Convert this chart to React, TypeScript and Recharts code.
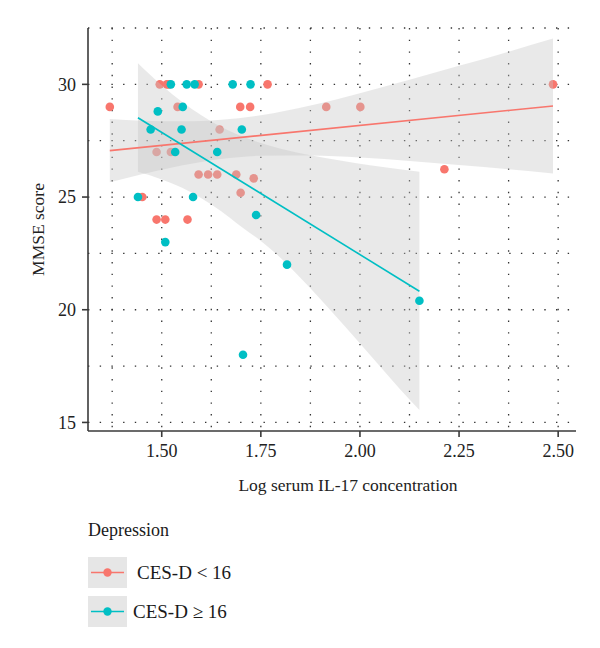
import React from 'react';
import { ComposedChart, Scatter, Area, Line, XAxis, YAxis, CartesianGrid, Legend } from 'recharts';

// CES-D < 16 (salmon) observations
const lowX = [1.369, 1.495, 1.513, 1.518, 1.593, 1.767, 2.487, 1.540, 1.698, 1.723, 1.915, 2.001, 2.213, 1.646, 1.487, 1.523, 1.593, 1.617, 1.640, 1.688, 1.732, 1.699, 1.451, 1.487, 1.509, 1.565];
const lowY = [29, 30, 30, 30, 30, 30, 30, 29, 29, 29, 29, 29, 26.23, 28, 27, 27, 26, 26, 26, 26, 25.83, 25.19, 25, 24, 24, 24];

// CES-D >= 16 (teal) observations
const highX = [1.523, 1.563, 1.583, 1.679, 1.724, 1.553, 1.490, 1.472, 1.550, 1.702, 1.534, 1.640, 1.440, 1.579, 1.509, 1.738, 1.816, 1.705, 2.150];
const highY = [30, 30, 30, 30, 30, 29, 28.8, 28, 28, 28, 27, 27, 25, 25, 23, 24.2, 22, 18, 20.4];

// Fitted lines
const lowFitX = [1.369, 2.487];
const lowFitY = [27.06, 29.04];
const highFitX = [1.44, 2.15];
const highFitY = [28.52, 20.82];

// Confidence bands
const lowBandX = [1.369, 1.45, 1.55, 1.65, 1.75, 1.875, 2.0, 2.125, 2.25, 2.375, 2.487];
const lowBandLo = [25.66, 26.01, 26.40, 26.69, 26.83, 26.84, 26.75, 26.60, 26.42, 26.23, 26.05];
const lowBandHi = [28.46, 28.39, 28.36, 28.43, 28.63, 29.06, 29.61, 30.20, 30.82, 31.45, 32.03];

const highBandX = [1.44, 1.50, 1.55, 1.60, 1.65, 1.70, 1.75, 1.80, 1.875, 1.95, 2.025, 2.10, 2.15];
const highBandLo = [26.12, 25.78, 25.42, 24.95, 24.37, 23.69, 23.05, 22.3, 20.95, 19.5, 18.0, 16.5, 15.55];
const highBandHi = [30.94, 29.96, 29.24, 28.63, 28.11, 27.71, 27.40, 27.14, 26.85, 26.62, 26.41, 26.23, 26.12];

const xTicks = [1.5, 1.75, 2.0, 2.25, 2.5];
const yTicks = [15, 20, 25, 30];
const xGrid = [1.375, 1.5, 1.625, 1.75, 1.875, 2.0, 2.125, 2.25, 2.375, 2.5];
const yGrid = [15, 17.5, 20, 22.5, 25, 27.5, 30, 32.5];

const SALMON = '#F8766D';
const TEAL = '#00BFC4';
const FONT = '"Liberation Serif", "Times New Roman", serif';

const legendLabels = ['CES-D < 16', 'CES-D \u2265 16'];
const legendColors = [SALMON, TEAL];

const lowPts = lowX.map((x, i) => ({ x, y: lowY[i] }));
const highPts = highX.map((x, i) => ({ x, y: highY[i] }));
const lowFit = lowFitX.map((x, i) => ({ x, y: lowFitY[i] }));
const highFit = highFitX.map((x, i) => ({ x, y: highFitY[i] }));
const lowBand = lowBandX.map((x, i) => ({ x, range: [lowBandLo[i], lowBandHi[i]] }));
const highBand = highBandX.map((x, i) => ({ x, range: [highBandLo[i], highBandHi[i]] }));

const dot = (color: string) => (props: any) => (
  <circle cx={props.cx} cy={props.cy} r={4.3} fill={color} />
);

const LegendContent = () => (
  <div style={{ position: 'relative', width: 300, height: 150, fontFamily: FONT, color: '#1a1a1a' }}>
    <div style={{ position: 'absolute', left: 0, top: 4, fontSize: 18, lineHeight: '22px' }}>Depression</div>
    {legendLabels.map((lab, i) => (
      <div key={lab} style={{ position: 'absolute', left: 0, top: 42 + i * 39, height: 31, display: 'flex', alignItems: 'center' }}>
        <svg width={39} height={31} style={{ display: 'block' }}>
          <rect x={0} y={0} width={39} height={31} fill="#E6E6E6" />
          <line x1={3} x2={36} y1={15.5} y2={15.5} stroke={legendColors[i]} strokeWidth={1.6} />
          <circle cx={19.5} cy={15.5} r={4.2} fill={legendColors[i]} />
        </svg>
        <span style={{ marginLeft: i === 0 ? 10 : 6, fontSize: 19, whiteSpace: 'pre' }}>{lab}</span>
      </div>
    ))}
  </div>
);

export default function App() {
  return (
    <div style={{ width: 592, height: 640 }}>
      <ComposedChart width={592} height={640} margin={{ top: 20, right: 24, bottom: 7, left: 20 }}>
        <CartesianGrid
          horizontalValues={yGrid}
          verticalValues={xGrid}
          stroke="#333"
          strokeWidth={1.3}
          strokeDasharray="1.4 10.3"
        />
        <XAxis
          type="number"
          dataKey="x"
          domain={[1.314, 2.545]}
          allowDataOverflow
          ticks={xTicks}
          tickFormatter={(v: number) => v.toFixed(2)}
          height={60}
          tickSize={6}
          tickMargin={7}
          stroke="#3a3a3a"
          strokeWidth={1.6}
          tick={{ fill: '#222', fontSize: 18, fontFamily: FONT }}
          label={{ value: 'Log serum IL-17 concentration', position: 'insideBottom', offset: 0, dx: 16, fill: '#222', fontSize: 17.5, fontFamily: FONT }}
        />
        <YAxis
          type="number"
          domain={[14.62, 32.5]}
          allowDataOverflow
          ticks={yTicks}
          width={60}
          tickSize={6}
          tickMargin={6}
          stroke="#3a3a3a"
          strokeWidth={1.6}
          tick={{ fill: '#222', fontSize: 18, fontFamily: FONT }}
          label={{ value: 'MMSE score', angle: -90, position: 'center', dx: -20, fill: '#222', fontSize: 17.5, fontFamily: FONT }}
        />
        <Scatter data={lowPts} dataKey="y" fill={SALMON} shape={dot(SALMON)} isAnimationActive={false} zIndex={50} />
        <Area data={lowBand} dataKey="range" type="monotone" stroke="none" fill="#C4C4C4" fillOpacity={0.38} isAnimationActive={false} zIndex={100} />
        <Area data={highBand} dataKey="range" type="monotone" stroke="none" fill="#C4C4C4" fillOpacity={0.38} isAnimationActive={false} zIndex={101} />
        <Scatter data={highPts} dataKey="y" fill={TEAL} shape={dot(TEAL)} isAnimationActive={false} zIndex={150} />
        <Line data={lowFit} dataKey="y" stroke={SALMON} strokeWidth={1.6} dot={false} isAnimationActive={false} zIndex={200} />
        <Line data={highFit} dataKey="y" stroke={TEAL} strokeWidth={1.6} dot={false} isAnimationActive={false} zIndex={201} />
        <Legend
          verticalAlign="bottom"
          content={() => <LegendContent />}
          wrapperStyle={{ left: 80, top: 507, width: 300, height: 150 }}
        />
      </ComposedChart>
    </div>
  );
}
